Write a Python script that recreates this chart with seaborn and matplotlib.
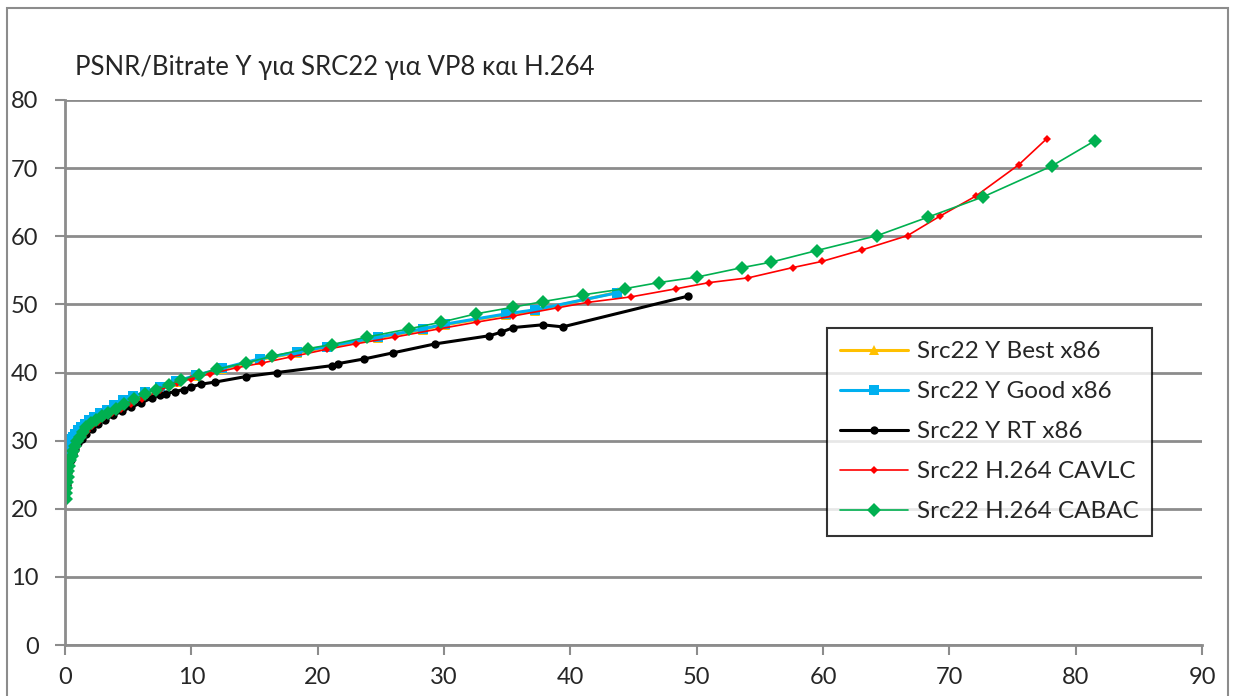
import seaborn as sns
import matplotlib.pyplot as plt
import pandas as pd
from matplotlib.patches import Rectangle

# data (bitrate, PSNR Y)
best_x = [0.04, 0.06, 0.09, 0.13, 0.18, 0.25, 0.34, 0.45, 0.6, 0.78, 1.0, 1.25, 1.55, 1.9, 2.3, 2.8, 3.3, 3.9, 4.6,
          5.4, 6.3, 7.5, 8.8, 10.4, 12.4, 15.4, 18.4, 20.7, 24.8, 28.3, 30.1, 34.9, 37.2, 43.8]
best_y = [25.7, 26.5, 27.3, 28.0, 28.6, 29.2, 29.7, 30.1, 30.5, 30.9, 31.4, 31.9, 32.4, 32.9, 33.4, 33.9, 34.4, 35.2, 35.8,
          36.4, 37.0, 37.8, 38.6, 39.5, 40.5, 41.9, 42.9, 43.7, 45.1, 46.3, 47.0, 48.5, 49.1, 51.8]

good_x = [0.04, 0.06, 0.09, 0.13, 0.18, 0.25, 0.34, 0.45, 0.6, 0.78, 1.0, 1.25, 1.55, 1.9, 2.3, 2.8, 3.3, 3.9, 4.6,
          5.4, 6.3, 7.5, 8.8, 10.4, 12.4, 15.4, 18.4, 20.7, 24.8, 28.3, 30.1, 34.9, 37.2, 43.7]
good_y = [25.8, 26.6, 27.4, 28.1, 28.7, 29.3, 29.8, 30.2, 30.6, 31.0, 31.5, 32.0, 32.5, 33.0, 33.5, 34.0, 34.5, 35.3, 35.9,
          36.5, 37.1, 37.9, 38.7, 39.6, 40.6, 42.0, 43.0, 43.8, 45.2, 46.4, 47.1, 48.6, 49.2, 51.7]

rt_x = [0.08, 0.12, 0.17, 0.24, 0.33, 0.45, 0.6, 0.8, 1.05, 1.35, 1.7, 2.1, 2.6, 3.2, 3.8, 4.5, 5.2, 6.0, 6.9, 7.5,
        8.0, 8.7, 9.4, 10.0, 10.8, 11.9, 14.3, 16.8, 21.1, 21.6, 23.7, 26.0, 29.3, 33.6, 34.5, 35.5, 37.8, 39.4, 49.3]
rt_y = [22.5, 23.5, 24.5, 25.4, 26.3, 27.2, 28.0, 28.8, 29.6, 30.3, 31.0, 31.7, 32.4, 33.1, 33.7, 34.3, 34.9, 35.5, 36.3, 36.7,
        36.9, 37.2, 37.5, 37.9, 38.3, 38.6, 39.4, 40.0, 41.0, 41.3, 42.0, 42.9, 44.2, 45.4, 45.9, 46.6, 47.0, 46.7, 51.2]

cavlc_x = [0.1, 0.15, 0.21, 0.29, 0.39, 0.52, 0.68, 0.88, 1.12, 1.4, 1.75, 2.15, 2.6, 3.1, 3.7, 4.4, 5.2, 6.1, 7.5,
           8.9, 10.0, 11.5, 13.6, 15.6, 17.9, 20.7, 23.0, 26.1, 29.6, 32.6, 35.5, 39.0, 41.4, 44.8, 48.4, 51.0,
           54.1, 57.6, 59.9, 63.1, 66.7, 69.3, 72.1, 75.5, 77.7]
cavlc_y = [23.0, 24.0, 25.0, 25.9, 26.8, 27.6, 28.4, 29.2, 30.0, 30.7, 31.4, 32.1, 32.8, 33.4, 34.0, 34.7, 35.4, 36.1, 37.4,
           38.5, 39.1, 39.8, 40.7, 41.4, 42.3, 43.4, 44.2, 45.2, 46.4, 47.4, 48.3, 49.5, 50.3, 51.1, 52.3, 53.2,
           53.9, 55.4, 56.3, 58.0, 60.1, 63.0, 65.9, 70.5, 74.3]

cabac_x = [0.05, 0.08, 0.11, 0.15, 0.2, 0.26, 0.33, 0.42, 0.52, 0.64, 0.78, 0.95, 1.15, 1.4, 1.7, 2.05, 2.45, 2.9,
           3.4, 4.0, 4.7, 5.5, 6.3, 7.2, 8.2, 9.2, 10.6, 12.0, 14.3, 16.4, 19.2, 21.1, 23.9, 27.2, 29.8, 32.5,
           35.5, 37.8, 41.0, 44.3, 47.0, 50.0, 53.6, 55.9, 59.5, 64.3, 68.3, 72.7, 78.1, 81.5]
cabac_y = [21.5, 22.3, 23.1, 23.9, 24.7, 25.5, 26.3, 27.1, 27.8, 28.5, 29.2, 29.9, 30.6, 31.3, 32.0, 32.6, 33.1, 33.6,
           34.1, 34.7, 35.4, 36.1, 36.8, 37.5, 38.2, 38.9, 39.7, 40.5, 41.4, 42.4, 43.5, 44.1, 45.2, 46.4, 47.4, 48.6,
           49.6, 50.4, 51.4, 52.3, 53.2, 54.0, 55.4, 56.2, 57.9, 60.1, 62.8, 65.8, 70.3, 74.0]

names = ["Src22 Y Best x86", "Src22 Y Good x86", "Src22 Y RT x86", "Src22 H.264 CAVLC", "Src22 H.264 CABAC"]
xs = [best_x, good_x, rt_x, cavlc_x, cabac_x]
ys = [best_y, good_y, rt_y, cavlc_y, cabac_y]

rows = []
for n, xv, yv in zip(names, xs, ys):
    for a, b in zip(xv, yv):
        rows.append({"serie": n, "bitrate": a, "psnr": b})
df = pd.DataFrame(rows)

# styles per series
colores = ["#FFC000", "#00B0F0", "#000000", "#FF0000", "#00B050"]
marcadores = ["^", "s", "o", "D", "D"]
tam = [7, 7, 6, 4.5, 7]
grosor = [2.2, 2.2, 2.2, 1.2, 1.2]

sns.set_style("white")
plt.rcParams['font.family'] = ['Lato', 'DejaVu Sans']

fig = plt.figure(figsize=(12.35, 6.96), dpi=100)
ax = fig.add_axes([65 / 1235, 1 - 645 / 696, (1202 - 65) / 1235, (645 - 100) / 696])

for i, n in enumerate(names):
    sns.lineplot(data=df[df.serie == n], x="bitrate", y="psnr", sort=False, estimator=None,
                 color=colores[i], marker=marcadores[i], markersize=tam[i], markeredgewidth=0,
                 lw=grosor[i], label=n, ax=ax)

ax.set_xlim(0, 90)
ax.set_ylim(0, 80)
ax.set_xticks(range(0, 91, 10))
ax.set_yticks(range(0, 81, 10))
ax.set_xlabel("")
ax.set_ylabel("")
ax.grid(axis="y", color="#8c8c8c", lw=2)
ax.grid(axis="x", visible=False)
for s in ["top", "right"]:
    ax.spines[s].set_visible(False)
for s in ["left", "bottom"]:
    ax.spines[s].set_color("#8c8c8c")
    ax.spines[s].set_linewidth(2)
ax.tick_params(axis="both", labelsize=17, length=7, width=1.5, color="#8c8c8c", direction="out",
               left=True, bottom=True)
ax.tick_params(axis="x", pad=9)
ax.tick_params(axis="y", pad=12)

fig.text(75 / 1235, 1 - 68 / 696, "PSNR/Bitrate Y για SRC22 για VP8 και H.264", fontsize=18.5,
         va="center", ha="left")

leg = ax.legend(loc="upper left", bbox_to_anchor=((827 - 65) / 1137, (645 - 328) / 545),
                fontsize=17.5, frameon=True, fancybox=False, handlelength=2.8, borderpad=0.55,
                labelspacing=0.78, handletextpad=0.35, borderaxespad=0)
leg.get_frame().set_edgecolor("black")
leg.get_frame().set_linewidth(1.5)

fig.patches.append(Rectangle((7 / 1235, -0.01), (1228 - 7) / 1235, 1.01 - 8 / 696, transform=fig.transFigure,
                             fill=False, edgecolor="#8c8c8c", lw=1.5))

plt.savefig("out.png")
plt.close()
